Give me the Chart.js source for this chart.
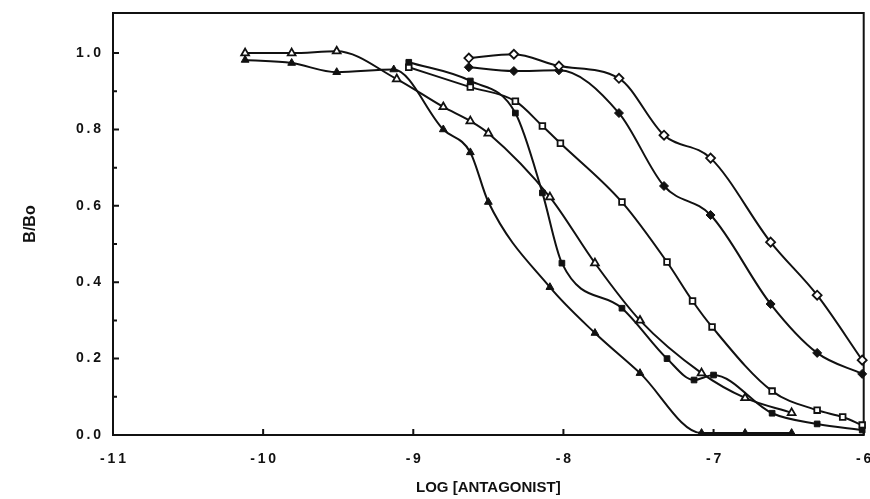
<!DOCTYPE html>
<html>
<head>
<meta charset="utf-8">
<script src="https://cdn.jsdelivr.net/npm/chart.js@4"></script>
<style>
  body { margin: 0; background: #fff; }
  #wrap { width: 870px; height: 499px; }
</style>
</head>
<body>
<div id="wrap"><canvas id="chart" width="870" height="499"></canvas></div>
<script>
// ---------------------------------------------------------
// DATA
// ---------------------------------------------------------
const xTickValues = [-11, -10, -9, -8, -7, -6];
const xTickLabels = ['-11', '-10', '-9', '-8', '-7', '-6'];
const yTickValues = [0, 0.1, 0.2, 0.3, 0.4, 0.5, 0.6, 0.7, 0.8, 0.9, 1.0];
const yTickLabels = ['0.0', '', '0.2', '', '0.4', '', '0.6', '', '0.8', '', '1.0'];

// open triangles
const tri1X = [-10.12, -9.81, -9.51, -9.11, -8.80, -8.62, -8.50, -8.09, -7.79, -7.49, -7.08, -6.79, -6.48];
const tri1Y = [1.00, 1.00, 1.005, 0.932, 0.859, 0.822, 0.79, 0.623, 0.45, 0.30, 0.162, 0.097, 0.058];
// filled triangles
const tri2X = [-10.12, -9.81, -9.51, -9.13, -8.80, -8.62, -8.50, -8.09, -7.79, -7.49, -7.08, -6.79, -6.48];
const tri2Y = [0.982, 0.974, 0.95, 0.957, 0.80, 0.74, 0.61, 0.387, 0.267, 0.162, 0.005, 0.005, 0.005];
// filled squares
const sq1X = [-9.03, -8.62, -8.32, -8.14, -8.01, -7.61, -7.31, -7.13, -7.00, -6.61, -6.31, -6.01];
const sq1Y = [0.976, 0.927, 0.843, 0.634, 0.45, 0.332, 0.20, 0.144, 0.157, 0.057, 0.029, 0.013];
// open squares
const sq2X = [-9.03, -8.62, -8.32, -8.14, -8.02, -7.61, -7.31, -7.14, -7.01, -6.61, -6.31, -6.14, -6.01];
const sq2Y = [0.963, 0.911, 0.874, 0.809, 0.764, 0.61, 0.453, 0.351, 0.283, 0.115, 0.065, 0.047, 0.026];
// open diamonds
const dia1X = [-8.63, -8.33, -8.03, -7.63, -7.33, -7.02, -6.62, -6.31, -6.01];
const dia1Y = [0.987, 0.997, 0.966, 0.934, 0.785, 0.725, 0.505, 0.366, 0.196];
// filled diamonds
const dia2X = [-8.63, -8.33, -8.03, -7.63, -7.33, -7.02, -6.62, -6.31, -6.01];
const dia2Y = [0.963, 0.953, 0.955, 0.843, 0.652, 0.576, 0.343, 0.215, 0.16];

// ---------------------------------------------------------
// HELPERS
// ---------------------------------------------------------
const INK = '#111';
const FONT = "'Liberation Sans', Arial, sans-serif";

function toPoints(xs, ys) {
    return xs.map((x, i) => ({ x: x, y: ys[i] }));
}

// the old plotter spaced its digits out, so do the same with thin spaces
function spaced(s) {
    return s.split('').join('\u2009');
}

function series(xs, ys, style, filled, radius) {
    return {
        data: toPoints(xs, ys),
        showLine: true,
        borderColor: INK,
        borderWidth: 2,
        cubicInterpolationMode: 'monotone',
        pointStyle: style,
        pointRadius: radius,
        pointBackgroundColor: filled ? INK : '#fff',
        pointBorderColor: INK,
        pointBorderWidth: filled ? 1 : 1.8,
        clip: false
    };
}

// box round the plot and the little inward ticks
const framePlugin = {
    id: 'frame',
    beforeDatasetsDraw(chart) {
        const ctx = chart.ctx;
        const a = chart.chartArea;
        const xs = chart.scales.x;
        const ys = chart.scales.y;
        ctx.save();
        ctx.strokeStyle = INK;
        ctx.lineWidth = 2;
        ctx.strokeRect(a.left, a.top, a.right - a.left, a.bottom - a.top);
        ctx.beginPath();
        xTickValues.forEach(v => {
            const px = xs.getPixelForValue(v);
            ctx.moveTo(px, a.bottom);
            ctx.lineTo(px, a.bottom - 6);
        });
        yTickValues.forEach((v, i) => {
            const py = ys.getPixelForValue(v);
            ctx.moveTo(a.left, py);
            ctx.lineTo(a.left + (i % 2 === 0 ? 6 : 4), py);
        });
        ctx.stroke();
        ctx.restore();
    }
};

// ---------------------------------------------------------
// CHART
// ---------------------------------------------------------
new Chart(document.getElementById('chart'), {
    type: 'scatter',
    data: {
        datasets: [
            series(tri1X, tri1Y, 'triangle', false, 4.5),
            series(tri2X, tri2Y, 'triangle', true, 4.5),
            series(sq1X, sq1Y, 'rect', true, 4),
            series(sq2X, sq2Y, 'rect', false, 4),
            series(dia1X, dia1Y, 'rectRot', false, 4.5),
            series(dia2X, dia2Y, 'rectRot', true, 4.5)
        ]
    },
    options: {
        responsive: false,
        animation: false,
        layout: { padding: { top: 13, right: 4, left: 0, bottom: 0 } },
        plugins: {
            legend: { display: false },
            tooltip: { enabled: false }
        },
        scales: {
            x: {
                type: 'linear',
                min: -11,
                max: -6,
                afterBuildTicks: s => { s.ticks = xTickValues.map(v => ({ value: v })); },
                afterFit: s => {
                    s.height = 64;
                    s.paddingLeft = 0;
                    s.paddingRight = 0;
                },
                grid: { display: false, drawTicks: false },
                border: { display: false },
                ticks: {
                    color: INK,
                    padding: 16,
                    maxRotation: 0,
                    font: { family: FONT, size: 14, weight: 'bold' },
                    callback: (v, i) => spaced(xTickLabels[i])
                },
                title: {
                    display: true,
                    text: 'LOG [ANTAGONIST]',
                    color: INK,
                    font: { family: FONT, size: 15, weight: 'bold' },
                    padding: { top: 0, bottom: 2 }
                }
            },
            y: {
                type: 'linear',
                min: 0,
                max: 1.105,
                afterBuildTicks: s => { s.ticks = yTickValues.map(v => ({ value: v })); },
                afterFit: s => {
                    s.width = 113;
                    s.paddingTop = 0;
                    s.paddingBottom = 0;
                },
                grid: { display: false, drawTicks: false },
                border: { display: false },
                ticks: {
                    color: INK,
                    padding: 12,
                    font: { family: FONT, size: 14, weight: 'bold' },
                    callback: (v, i) => spaced(yTickLabels[i])
                },
                title: {
                    display: true,
                    text: 'B/Bo',
                    color: INK,
                    font: { family: FONT, size: 16, weight: 'bold' },
                    padding: { top: 21, bottom: 0 }
                }
            }
        }
    },
    plugins: [framePlugin]
});
</script>
</body>
</html>
